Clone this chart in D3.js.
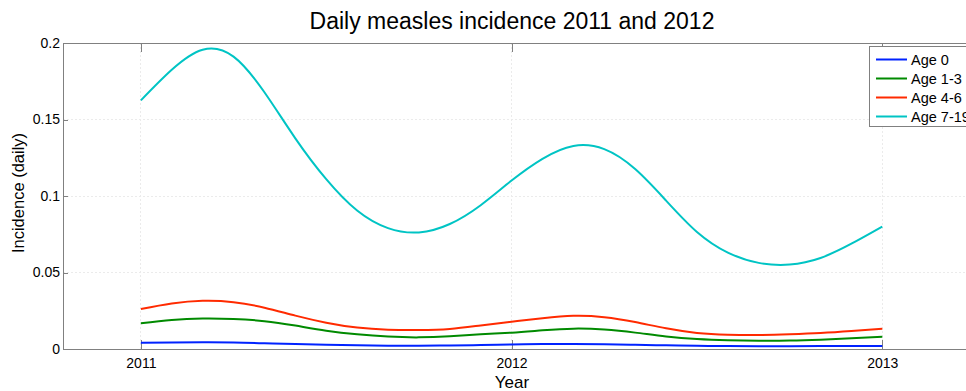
<!DOCTYPE html>
<html>
<head>
<meta charset="utf-8">
<script src="https://cdn.jsdelivr.net/npm/d3@7/dist/d3.min.js"></script>
<style>
  html, body { margin: 0; padding: 0; background: #fff; overflow: hidden; }
  svg { display: block; font-family: "Liberation Sans", Arial, Helvetica, sans-serif; }
</style>
</head>
<body>
<svg id="chart" width="966" height="391"></svg>
<script>
// Monthly sample times (fractional years), Jan 2011 .. Jan 2013
const months = d3.range(0, 25).map(k => 2011 + k / 12);

// Daily incidence per age group
const age0 = [0.0041, 0.0043, 0.0044, 0.0043, 0.0038, 0.0032, 0.0027, 0.0024, 0.0022, 0.0022, 0.0023, 0.0026,
              0.0029, 0.0032, 0.0033, 0.0031, 0.0027, 0.0024, 0.0021, 0.0019, 0.0018, 0.0018, 0.0019, 0.0020, 0.0020];
const age1to3 = [0.0168, 0.0190, 0.0199, 0.0196, 0.0182, 0.0153, 0.0120, 0.0096, 0.0081, 0.0076, 0.0083, 0.0096,
                 0.0107, 0.0122, 0.0133, 0.0127, 0.0107, 0.0082, 0.0065, 0.0057, 0.0054, 0.0055, 0.0061, 0.0070, 0.0080];
const age4to6 = [0.0261, 0.0297, 0.0315, 0.0306, 0.0270, 0.0218, 0.0172, 0.0140, 0.0126, 0.0124, 0.0131, 0.0154,
                 0.0178, 0.0201, 0.0217, 0.0208, 0.0176, 0.0135, 0.0105, 0.0093, 0.0091, 0.0096, 0.0104, 0.0117, 0.0133];
const age7to19 = [0.1625, 0.1825, 0.1956, 0.1911, 0.1678, 0.1377, 0.1110, 0.0905, 0.0790, 0.0762, 0.0817, 0.0940,
                  0.1101, 0.1243, 0.1327, 0.1306, 0.1176, 0.0970, 0.0765, 0.0630, 0.0563, 0.0552, 0.0595, 0.0688, 0.0800];

const seriesNames = ["Age 0", "Age 1-3", "Age 4-6", "Age 7-19"];
const seriesValues = [age0, age1to3, age4to6, age7to19];
const seriesColors = ["#0022ff", "#008a00", "#ff2a00", "#00c4c4"];

const xTicks = [2011, 2012, 2013];
const yTicks = [0, 0.05, 0.1, 0.15, 0.2];
const xDomain = [2010.79, 2013.25];
const yDomain = [0, 0.2];

const svg = d3.select("#chart");
const plotLeft = 63, plotRight = 975, plotTop = 43, plotBottom = 349;

const x = d3.scaleLinear().domain(xDomain).range([plotLeft, plotRight]);
const y = d3.scaleLinear().domain(yDomain).range([plotBottom, plotTop]);

const axisColor = "#808080";
const gridColor = "#ebebeb";

// Grid
const grid = svg.append("g");
grid.selectAll("line.gy").data(yTicks.slice(1)).join("line")
  .attr("x1", plotLeft).attr("x2", plotRight)
  .attr("y1", d => y(d)).attr("y2", d => y(d))
  .attr("stroke", gridColor).attr("stroke-width", 1).attr("stroke-dasharray", "2,2")
  .attr("shape-rendering", "crispEdges");
grid.selectAll("line.gx").data(xTicks).join("line")
  .attr("x1", d => x(d)).attr("x2", d => x(d))
  .attr("y1", plotTop).attr("y2", plotBottom)
  .attr("stroke", gridColor).attr("stroke-width", 1).attr("stroke-dasharray", "2,2")
  .attr("shape-rendering", "crispEdges");

// Axes (inward ticks, mirrored on top)
const xAxisB = d3.axisBottom(x).tickValues(xTicks).tickFormat(d3.format("d")).tickSizeInner(-9).tickSizeOuter(0).tickPadding(9);
const gxb = svg.append("g").attr("transform", `translate(0,${plotBottom})`).call(xAxisB);
const xAxisT = d3.axisTop(x).tickValues(xTicks).tickFormat("").tickSizeInner(-9).tickSizeOuter(0);
const gxt = svg.append("g").attr("transform", `translate(0,${plotTop})`).call(xAxisT);
const yAxisL = d3.axisLeft(y).tickValues(yTicks).tickFormat(d => d === 0 ? "0" : String(d)).tickSizeInner(-5).tickSizeOuter(0).tickPadding(3);
const gyl = svg.append("g").attr("transform", `translate(${plotLeft},0)`).call(yAxisL);

[gxb, gxt, gyl].forEach(g => {
  g.select(".domain").attr("stroke", axisColor).attr("shape-rendering", "crispEdges");
  g.selectAll(".tick line").attr("stroke", axisColor).attr("shape-rendering", "crispEdges");
  g.selectAll(".tick text").attr("fill", "#000").attr("font-size", 14)
    .attr("font-family", "'Liberation Sans', Arial, sans-serif");
});

// Curves
const line = d3.line()
  .x((d, i) => x(months[i]))
  .y(d => y(d))
  .curve(d3.curveNatural);

svg.append("g").selectAll("path").data(seriesValues).join("path")
  .attr("d", d => line(d))
  .attr("fill", "none")
  .attr("stroke", (d, i) => seriesColors[i])
  .attr("stroke-width", 2);

// Title and axis labels
svg.append("text").attr("x", 512).attr("y", 29).attr("text-anchor", "middle")
  .attr("font-size", 23).text("Daily measles incidence 2011 and 2012");
svg.append("text").attr("x", 512).attr("y", 388).attr("text-anchor", "middle")
  .attr("font-size", 17).text("Year");
svg.append("text").attr("transform", "translate(24,193) rotate(-90)").attr("text-anchor", "middle")
  .attr("font-size", 16.5).text("Incidence (daily)");

// Legend
const lg = svg.append("g");
lg.append("rect").attr("x", 869.5).attr("y", 46.5).attr("width", 120).attr("height", 80)
  .attr("fill", "#fff").attr("stroke", axisColor).attr("stroke-width", 1);
const items = lg.selectAll("g.item").data(seriesNames).join("g")
  .attr("transform", (d, i) => `translate(0,${59.5 + i * 19})`);
items.append("line").attr("x1", 876).attr("x2", 907).attr("y1", 0).attr("y2", 0)
  .attr("stroke", (d, i) => seriesColors[i]).attr("stroke-width", 2);
items.append("text").attr("x", 911).attr("y", 5).attr("font-size", 14.5).text(d => d);
</script>
</body>
</html>
